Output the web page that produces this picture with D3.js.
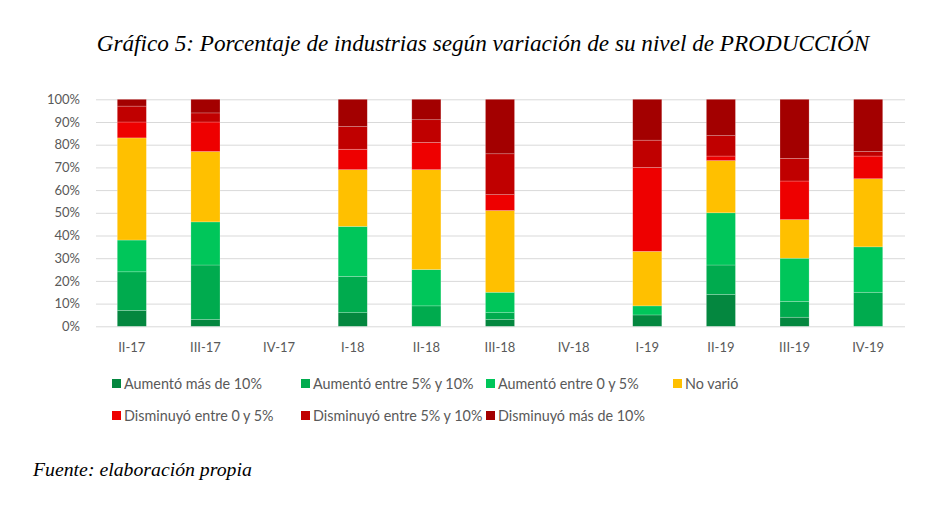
<!DOCTYPE html>
<html><head><meta charset="utf-8">
<script src="https://cdn.jsdelivr.net/npm/d3@7"></script>
<style>body{margin:0;background:#fff}</style>
</head><body><svg id="c" width="938" height="514"></svg>
<script>
const categories = ["II-17","III-17","IV-17","I-18","II-18","III-18","IV-18","I-19","II-19","III-19","IV-19"];
const aumentoMas10   = [7, 3, null, 6, 0, 3, null, 5, 14, 4, 0];
const aumento5a10    = [17, 24, null, 16, 9, 3, null, 0, 13, 7, 15];
const aumento0a5     = [14, 19, null, 22, 16, 9, null, 4, 23, 19, 20];
const noVario        = [45, 31, null, 25, 44, 36, null, 24, 23, 17, 30];
const disminuyo0a5   = [7, 13, null, 9, 12, 7, null, 37, 2, 17, 10];
const disminuyo5a10  = [7, 4, null, 10, 10, 18, null, 12, 9, 10, 2];
const disminuyoMas10 = [3, 6, null, 12, 9, 24, null, 18, 16, 26, 23];
const seriesNames = ["Aumentó más de 10%","Aumentó entre 5% y 10%","Aumentó entre 0 y 5%","No varió","Disminuyó entre 0 y 5%","Disminuyó entre 5% y 10%","Disminuyó más de 10%"];
const seriesColors = ["#04873F","#00AB4E","#00C65A","#FFC000","#EE0000","#C00000","#A30000"];
const yTicks = [0,10,20,30,40,50,60,70,80,90,100];
const titleText = "Gráfico 5: Porcentaje de industrias según variación de su nivel de PRODUCCIÓN";
const sourceText = "Fuente: elaboración propia";

const seriesValues = [aumentoMas10, aumento5a10, aumento0a5, noVario, disminuyo0a5, disminuyo5a10, disminuyoMas10];
const keys = seriesNames;
const table = categories.map((c, i) => {
  const row = {cat: c, empty: seriesValues.every(s => s[i] == null)};
  keys.forEach((k, j) => row[k] = seriesValues[j][i] || 0);
  return row;
});

const svg = d3.select("#c");
const font = "Lato, 'Open Sans', sans-serif";
const serif = "'Liberation Serif', 'DejaVu Serif', serif";

const x = d3.scaleBand().domain(categories).range([95, 905]).paddingInner(0.605).paddingOuter(0.3025);
const y = d3.scaleLinear().domain([0, 100]).range([326.3, 99.3]);

// grid + y axis
const gy = svg.append("g").attr("transform", "translate(96,0)")
  .call(d3.axisLeft(y).tickValues(yTicks).tickFormat(d => d + "%").tickSize(-(905 - 96)).tickPadding(16));
gy.select(".domain").remove();
gy.selectAll(".tick line").attr("stroke", "#D9D9D9").attr("stroke-width", 1);
gy.selectAll(".tick text").attr("fill", "#595959").style("font-family", font).style("font-size", "13px");

// bars
const stacked = d3.stack().keys(keys)(table);
svg.append("g").selectAll("g").data(stacked).join("g")
  .attr("fill", (d, i) => seriesColors[i])
  .selectAll("rect").data(d => d.filter(p => !p.data.empty && p[1] > p[0])).join("rect")
  .attr("x", d => x(d.data.cat))
  .attr("width", x.bandwidth())
  .attr("y", d => y(d[1]))
  .attr("height", d => y(d[0]) - y(d[1]))
  .attr("stroke", "rgba(255,255,255,0.35)")
  .attr("stroke-width", 0.6);

// x axis
const gx = svg.append("g").attr("transform", "translate(0,326.3)")
  .call(d3.axisBottom(x).tickSize(0));
gx.select(".domain").remove();
gx.selectAll(".tick text").attr("y", 25.5).attr("dy", null)
  .attr("fill", "#595959").style("font-family", font).style("font-size", "13px");

function fit(sel, target) {
  const n = sel.node();
  const w = n.getComputedTextLength();
  const fs = parseFloat(sel.style("font-size"));
  sel.style("font-size", (fs * target / w) + "px");
}

// title
const t = svg.append("text").attr("x", 483).attr("y", 51).attr("text-anchor", "middle")
  .style("font-family", serif).style("font-style", "italic").style("font-size", "21px")
  .attr("fill", "#000").text(titleText);
fit(t, 773);

// legend
const legendPos = [
  {x: 112, y: 383.5}, {x: 301, y: 383.5}, {x: 486, y: 383.5}, {x: 673, y: 383.5},
  {x: 112, y: 415.5}, {x: 301, y: 415.5}, {x: 486, y: 415.5}
];
const lg = svg.append("g").selectAll("g").data(seriesNames).join("g")
  .attr("transform", (d, i) => `translate(${legendPos[i].x},${legendPos[i].y})`);
lg.append("rect").attr("x", 0).attr("y", -4.5).attr("width", 9).attr("height", 9)
  .attr("fill", (d, i) => seriesColors[i]);
const lt = lg.append("text").attr("x", 12).attr("y", 5)
  .attr("fill", "#595959").style("font-family", font).style("font-size", "13px").text(d => d);
// scale legend font to match reference width of first label
const w0 = lt.nodes()[0].getComputedTextLength();
const lfs = 13 * 138 / w0;
lt.style("font-size", lfs + "px");

// source
const s = svg.append("text").attr("x", 33).attr("y", 476)
  .style("font-family", serif).style("font-style", "italic").style("font-size", "16px")
  .attr("fill", "#000").text(sourceText);
fit(s, 219);
</script></body></html>
